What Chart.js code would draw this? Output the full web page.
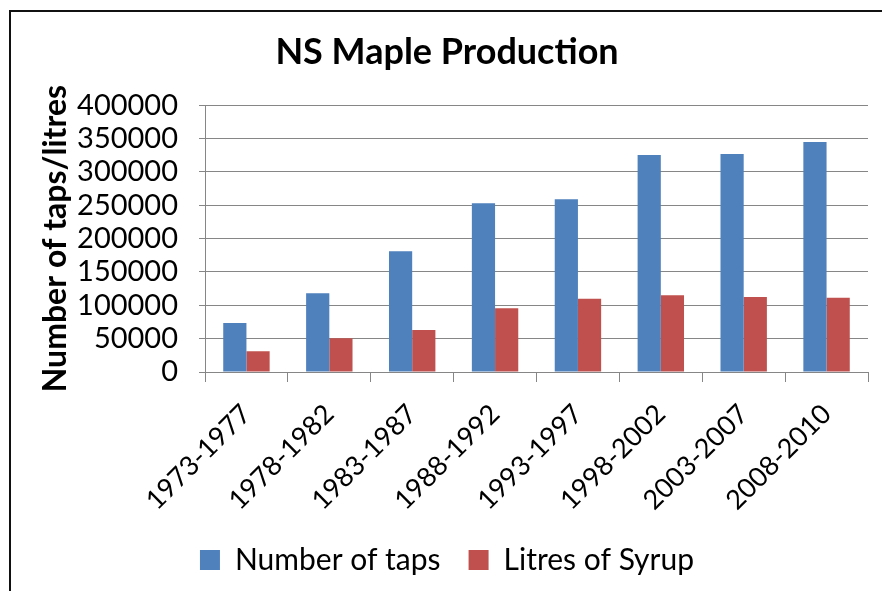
<!DOCTYPE html>
<html>
<head>
<meta charset="utf-8">
<script src="https://cdn.jsdelivr.net/npm/chart.js@4"></script>
<style>
    body { margin: 0; background: #fff; }
    .wrap { position: relative; width: 882px; height: 591px; overflow: hidden; }
    .frame { position: absolute; left: 9px; top: 10px; width: 900px; height: 600px; border: 2px solid #111; }
    canvas { position: absolute; left: 0; top: 0; }
</style>
</head>
<body>
<div class="wrap">
    <div class="frame"></div>
    <canvas class="bar-chart" width="882" height="591"></canvas>
</div>
<script>
const periods = ['1973-1977', '1978-1982', '1983-1987', '1988-1992', '1993-1997', '1998-2002', '2003-2007', '2008-2010'];
const taps = [73500, 118000, 181000, 253000, 259000, 325500, 327000, 345000];
const syrup = [31000, 50500, 63000, 95500, 110000, 115000, 112500, 111500];
const yTicks = [0, 50000, 100000, 150000, 200000, 250000, 300000, 350000, 400000];

const fontFamily = 'Lato, "Open Sans", sans-serif';
const gridColor = '#868686';

Chart.defaults.font.family = fontFamily;
Chart.defaults.color = '#000';

const ctxBar = document.querySelector('.bar-chart').getContext('2d');
const chartBar = new Chart(ctxBar, {
    type: 'bar',
    data: {
        labels: periods,
        datasets: [{
            label: 'Number of taps',
            data: taps,
            backgroundColor: '#4F81BD',
            categoryPercentage: 0.56,
            barPercentage: 1
        }, {
            label: 'Litres of Syrup',
            data: syrup,
            backgroundColor: '#C0504D',
            categoryPercentage: 0.56,
            barPercentage: 1
        }]
    },
    options: {
        responsive: false,
        animation: false,
        layout: {
            padding: { left: 26, right: 14, top: 12, bottom: 6 }
        },
        plugins: {
            title: {
                display: true,
                text: 'NS Maple Production',
                font: { size: 36, weight: 'bold' },
                padding: { top: 19, bottom: 31 }
            },
            legend: {
                position: 'bottom',
                labels: {
                    font: { size: 30 },
                    boxWidth: 20,
                    boxHeight: 20,
                    padding: 28
                }
            },
            tooltip: { enabled: false }
        },
        scales: {
            x: {
                afterFit: (scale) => {
                    scale.height = 145;
                },
                grid: {
                    drawOnChartArea: false,
                    drawTicks: true,
                    tickLength: 10,
                    color: gridColor
                },
                border: { color: gridColor },
                ticks: {
                    font: { size: 27 },
                    maxRotation: 45,
                    minRotation: 45,
                    autoSkip: false,
                    padding: 16
                }
            },
            y: {
                min: 0,
                max: 400000,
                afterBuildTicks: (scale) => {
                    scale.ticks = yTicks.map(v => ({ value: v }));
                },
                afterFit: (scale) => {
                    scale.width = 179;
                },
                grid: {
                    color: gridColor,
                    tickLength: 6
                },
                border: { color: gridColor },
                ticks: {
                    font: { size: 29 },
                    padding: 21,
                    autoSkip: false,
                    callback: (v) => String(v)
                },
                title: {
                    display: true,
                    text: 'Number of taps/litres',
                    font: { size: 32, weight: 'bold' },
                    padding: { top: 10, bottom: 0 }
                }
            }
        }
    }
});
</script>
</body>
</html>
